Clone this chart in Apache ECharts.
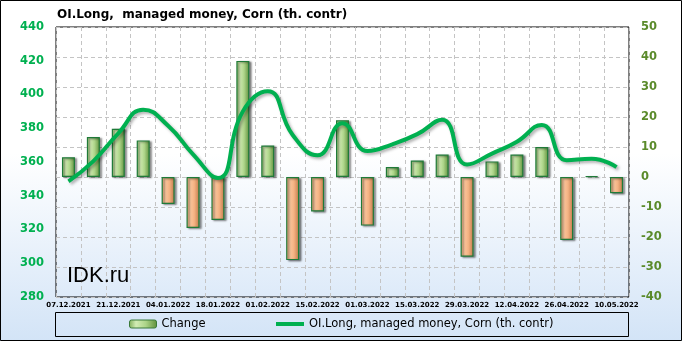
<!DOCTYPE html>
<html>
<head>
<meta charset="utf-8">
<script src="https://cdn.jsdelivr.net/npm/echarts@6/dist/echarts.min.js"></script>
<style>
html,body{margin:0;padding:0;background:#fff;}
#c{width:682px;height:341px;}
</style>
</head>
<body>
<div id="c"></div>
<script>
const categories = ['07.12.2021','14.12.2021','21.12.2021','28.12.2021','04.01.2022','11.01.2022','18.01.2022','25.01.2022','01.02.2022','08.02.2022','15.02.2022','22.02.2022','01.03.2022','08.03.2022','15.03.2022','22.03.2022','29.03.2022','05.04.2022','12.04.2022','19.04.2022','26.04.2022','03.05.2022','10.05.2022'];
const changeValues = [6.6, 13.3, 16.1, 12.2, -9.0, -17.0, -14.3, 38.7, 10.5, -27.7, -11.5, 18.9, -16.2, 3.3, 5.5, 7.5, -26.6, 5.2, 7.5, 10.0, -21.0, 0.3, -5.4];
const oiLongValues = [348.5, 360.5, 377, 391, 381.5, 364.5, 350.5, 390, 402, 376, 364, 383, 366.5, 370.5, 376.5, 385, 358.5, 365, 372, 382, 361, 362, 357];
const leftTicks = {min: 280, max: 440, interval: 20};
const rightTicks = {min: -40, max: 50, interval: 10};
const titleText = 'OI.Long,  managed money, Corn (th. contr)';
const barName = 'Change';
const lineName = 'OI.Long, managed money, Corn (th. contr)';

const G = echarts.graphic;
const posFill = new G.LinearGradient(0,0,1,0,[
  {offset:0,color:'#7fae5a'},{offset:0.25,color:'#d2ecb4'},{offset:0.6,color:'#acd488'},{offset:1,color:'#5f8f3c'}]);
const negFill = new G.LinearGradient(0,0,1,0,[
  {offset:0,color:'#e8a070'},{offset:0.25,color:'#fcc9a0'},{offset:0.6,color:'#f4b282'},{offset:1,color:'#c07848'}]);
const barStyleBase = {borderColor:'#1f7a38', borderWidth:1.2, shadowColor:'rgba(0,0,0,0.45)', shadowBlur:2, shadowOffsetX:2, shadowOffsetY:1};

const chart = echarts.init(document.getElementById('c'), null, {renderer:'canvas'});
const option = {
  animation:false,
  backgroundColor: new G.LinearGradient(0,0,0,1,[
    {offset:0,color:'#ffffff'},{offset:0.45,color:'#ffffff'},{offset:1,color:'#d3e4f7'}]),
  textStyle:{fontFamily:'DejaVu Sans'},
  title:{text:titleText, left:57, top:9, padding:0, textStyle:{fontFamily:'DejaVu Sans', fontSize:12, fontWeight:'bold', color:'#000'}},
  grid:{left:56, right:53, top:27, bottom:44, show:true, borderColor:'#000', borderWidth:1, backgroundColor:'transparent'},
  legend:[
    {data:[{name:barName, itemStyle:{color:posFill, borderColor:'#3a7a3a', borderWidth:1}}],
     left:129, top:318, padding:0, itemWidth:27, itemHeight:8, itemGap:5,
     textStyle:{fontFamily:'DejaVu Sans', fontSize:11.5, color:'#000'}},
    {data:[{name:lineName, icon:'rect', itemStyle:{color:'#00b050'}}],
     left:276, top:318, padding:0, itemWidth:28, itemHeight:4,
     textStyle:{fontFamily:'DejaVu Sans', fontSize:11.5, color:'#000'}}
  ],
  xAxis:{type:'category', data:categories, boundaryGap:true,
    axisLine:{show:false}, axisTick:{show:false},
    axisLabel:{interval:1, fontSize:7, fontWeight:'bold', color:'#000', margin:5, fontFamily:'DejaVu Sans'},
    splitLine:{show:true, interval:0, lineStyle:{color:'#c4c4c4', type:[4,3]}}},
  yAxis:[
    {type:'value', position:'left', min:leftTicks.min, max:leftTicks.max, interval:leftTicks.interval,
     axisLine:{show:false}, axisTick:{show:false}, splitLine:{show:false},
     axisLabel:{color:'#00b050', fontSize:11.5, fontWeight:'bold', margin:12, fontFamily:'DejaVu Sans'}},
    {type:'value', position:'right', min:rightTicks.min, max:rightTicks.max, interval:rightTicks.interval,
     axisLine:{show:false}, axisTick:{show:false},
     splitLine:{show:true, lineStyle:{color:'#c4c4c4', type:[4,3]}},
     axisLabel:{color:'#5a8a2a', fontSize:11.5, fontWeight:'bold', margin:12, fontFamily:'DejaVu Sans'}}
  ],
  series:[
    {name:barName, type:'bar', yAxisIndex:1, barWidth:13, z:2,
     data: changeValues.map(v => ({value:v, itemStyle:Object.assign({color: v>=0?posFill:negFill}, barStyleBase)}))},
    {name:lineName, type:'line', yAxisIndex:0, smooth:0.5, symbol:'none', z:3,
     data: oiLongValues,
     lineStyle:{color:'#00b050', width:4, shadowColor:'rgba(0,0,0,0.3)', shadowBlur:3, shadowOffsetX:2, shadowOffsetY:2},
     itemStyle:{color:'#00b050'}}
  ],
  graphic:[
    {type:'rect', shape:{x:0.5,y:0.5,width:681,height:340}, style:{fill:'none', stroke:'#000', lineWidth:1}, z:100},
    {type:'rect', shape:{x:55.5,y:312.5,width:573,height:24}, style:{fill:'none', stroke:'#000', lineWidth:1}, z:100},
    {type:'text', x:67, y:276, style:{text:'IDK.ru', fill:'#000', font:'22px "Liberation Sans", Arial, sans-serif', verticalAlign:'middle'}, z:100}
  ]
};
chart.setOption(option);
</script>
</body>
</html>
